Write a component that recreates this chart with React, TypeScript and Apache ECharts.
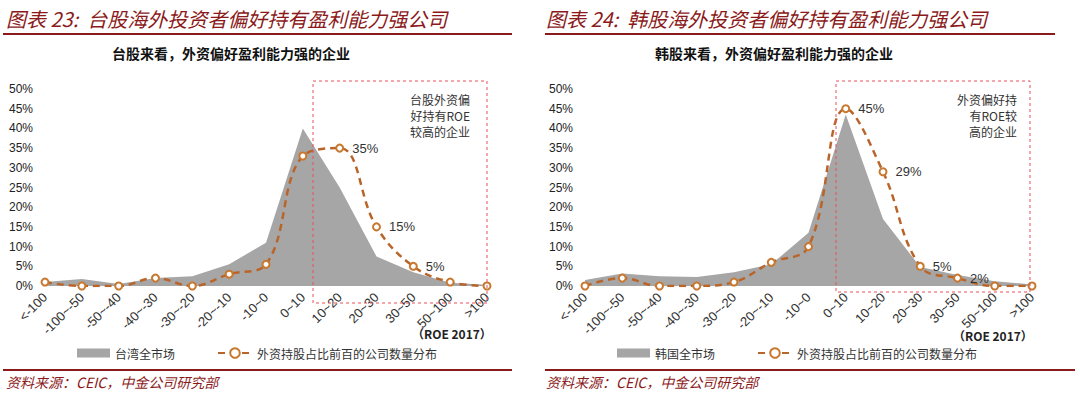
import React, { useEffect, useRef } from "react";
import * as echarts from "echarts";

const categories = ["<-100", "-100~-50", "-50~-40", "-40~-30", "-30~-20", "-20~-10", "-10~0", "0~10", "10~20", "20~30", "30~50", "50~100", ">100"];
const twMarket = [1, 1.8, 0.5, 2, 2.5, 5.5, 11, 40, 25, 7.5, 3.5, 0.8, 0.3];
const twForeign = [1, 0, 0, 2, 0, 3, 5.5, 33, 35, 15, 5, 1, 0];
const twLabelIdx = [8, 9, 10];
const krMarket = [1.5, 3.2, 2.5, 2.3, 3.5, 5.5, 13.5, 43.5, 17, 4.8, 2.8, 1.2, 0.4];
const krForeign = [0, 2, 0, 0, 1, 6, 10, 45, 29, 5, 2, 0, 0];
const krLabelIdx = [7, 8, 9, 10];
const yTicks = [0, 5, 10, 15, 20, 25, 30, 35, 40, 45, 50];

const lineName = "外资持股占比前百的公司数量分布";
const DARKRED = "#8B1A1A";
const GRAY = "#A6A6A6";
const ORANGE = "#B9652A";
const FONT = "'Noto Sans CJK SC', 'Liberation Sans', sans-serif";
const NUMFONT = "'Liberation Sans', Arial, sans-serif";

export default function App() {
  const ref = useRef<HTMLDivElement>(null);
  useEffect(() => {
    if (!ref.current) return;
    const chart = echarts.init(ref.current, undefined, { renderer: "svg" });
    const mkX = (gi: number) => ({
      type: "category",
      gridIndex: gi,
      data: categories,
      boundaryGap: false,
      axisLine: { show: false },
      axisTick: { show: false },
      axisLabel: { rotate: 45, fontSize: 13, color: "#333", fontFamily: NUMFONT, margin: 9, interval: 0 },
    });
    const mkY = (gi: number) => ({
      type: "value",
      gridIndex: gi,
      min: yTicks[0],
      max: yTicks[yTicks.length - 1],
      interval: 5,
      axisLine: { show: false },
      axisTick: { show: false },
      splitLine: { show: false },
      axisLabel: { formatter: "{value}%", fontSize: 12, color: "#222", fontFamily: NUMFONT, margin: 12 },
    });
    const mkArea = (name: string, data: number[], gi: number) => ({
      name,
      type: "line",
      xAxisIndex: gi,
      yAxisIndex: gi,
      data,
      showSymbol: false,
      symbol: "none",
      color: GRAY,
      lineStyle: { width: 0, color: GRAY },
      areaStyle: { color: GRAY, opacity: 1 },
      z: 1,
    });
    const mkLine = (data: number[], idx: number[], gi: number) => ({
      name: lineName,
      type: "line",
      xAxisIndex: gi,
      yAxisIndex: gi,
      data,
      smooth: 0.4,
      symbol: "circle",
      symbolSize: 7,
      color: ORANGE,
      itemStyle: { color: "#fff", borderColor: "#C8782F", borderWidth: 2 },
      lineStyle: { color: ORANGE, width: 2.5, type: [7, 5] },
      label: {
        show: true,
        position: "right",
        distance: 8,
        fontSize: 13,
        color: "#333",
        fontFamily: NUMFONT,
        formatter: (p: any) => (idx.includes(p.dataIndex) ? `${p.value}%` : ""),
      },
      z: 3,
    });
    const text = (x: number, y: number, t: string, style: any) => ({
      type: "text",
      x,
      y,
      style: { text: t, fontFamily: FONT, ...style },
    });
    const dashRect = (x: number, y: number, w: number, h: number) => ({
      type: "rect",
      shape: { x, y, width: w, height: h },
      style: { fill: "none", stroke: "#E8505B", lineWidth: 1, lineDash: [3, 3] },
      z: 10,
    });
    const hline = (x1: number, x2: number, y: number) => ({
      type: "line",
      shape: { x1, y1: y, x2, y2: y },
      style: { stroke: DARKRED, lineWidth: 2 },
    });
    const legendItem = (left: number, name: string, isArea: boolean) => ({
      left,
      top: 342,
      data: [isArea ? { name, icon: "rect" } : { name }],
      itemWidth: isArea ? 33 : 34,
      itemHeight: isArea ? 9 : 12,
      itemGap: 6,
      textStyle: { fontSize: 12, color: "#333", fontFamily: FONT },
      selectedMode: false,
    });

    chart.setOption({
      animation: false,
      grid: [
        { left: 45, right: 1080 - 487, top: 89, bottom: 397 - 286 },
        { left: 585, right: 1080 - 1032, top: 89, bottom: 397 - 286 },
      ],
      xAxis: [mkX(0), mkX(1)],
      yAxis: [mkY(0), mkY(1)],
      legend: [
        legendItem(72, "台湾全市场", true),
        legendItem(212, lineName, false),
        legendItem(612, "韩国全市场", true),
        legendItem(752, lineName, false),
      ],
      series: [
        mkArea("台湾全市场", twMarket, 0),
        mkLine(twForeign, twLabelIdx, 0),
        mkArea("韩国全市场", krMarket, 1),
        mkLine(krForeign, krLabelIdx, 1),
      ],
      graphic: [
        text(6, 8, "图表 23:  台股海外投资者偏好持有盈利能力强公司", { fontSize: 20, fontStyle: "italic", fill: DARKRED }),
        text(546, 8, "图表 24:  韩股海外投资者偏好持有盈利能力强公司", { fontSize: 20, fontStyle: "italic", fill: DARKRED }),
        hline(3, 512, 34),
        hline(545, 1055, 34),
        text(231, 46, "台股来看，外资偏好盈利能力强的企业", { fontSize: 14, fontWeight: "bold", fill: "#111", align: "center" }),
        text(774, 46, "韩股来看，外资偏好盈利能力强的企业", { fontSize: 14, fontWeight: "bold", fill: "#111", align: "center" }),
        dashRect(313, 81, 174, 222),
        dashRect(836, 81, 194, 211),
        text(470, 91, "台股外资偏\n好持有ROE\n较高的企业", { fontSize: 12, fill: "#333", align: "right", lineHeight: 16 }),
        text(1017, 91, "外资偏好持\n有ROE较\n高的企业", { fontSize: 12, fill: "#333", align: "right", lineHeight: 16 }),
        text(412, 327, "（ROE 2017）", { fontSize: 12, fontWeight: "bold", fill: "#222" }),
        text(953, 329, "（ROE 2017）", { fontSize: 12, fontWeight: "bold", fill: "#222" }),
        hline(3, 512, 370),
        hline(545, 1075, 370),
        text(6, 375, "资料来源：CEIC，中金公司研究部", { fontSize: 14, fontStyle: "italic", fill: DARKRED }),
        text(546, 375, "资料来源：CEIC，中金公司研究部", { fontSize: 14, fontStyle: "italic", fill: DARKRED }),
      ],
    });
    return () => chart.dispose();
  }, []);
  return (
    <div
      ref={ref}
      style={{ position: "fixed", left: 0, top: 0, width: 1080, height: 397, background: "#fff" }}
    />
  );
}
